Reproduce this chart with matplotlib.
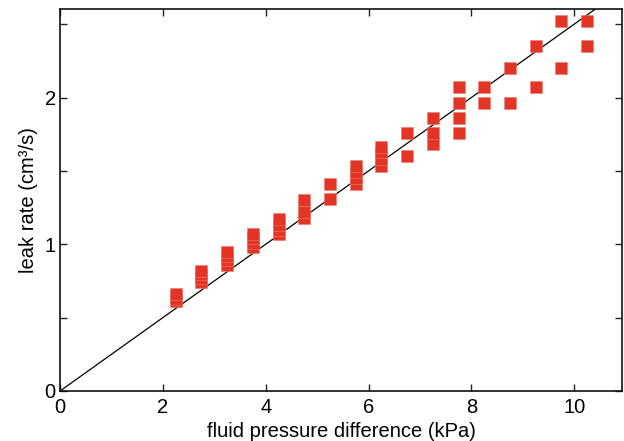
import matplotlib
matplotlib.use('Agg')
import matplotlib.pyplot as plt
import numpy as np
from matplotlib.ticker import MultipleLocator

plt.rcParams['font.family'] = ['Liberation Sans', 'DejaVu Sans']

# pressure difference columns (kPa) and leak rates (cm3/s)
pressure = [2.25, 2.25, 2.25,
            2.75, 2.75, 2.75, 2.75,
            3.25, 3.25, 3.25, 3.25,
            3.75, 3.75, 3.75, 3.75,
            4.25, 4.25, 4.25, 4.25,
            4.75, 4.75, 4.75,
            5.25, 5.25,
            5.75, 5.75, 5.75, 5.75,
            6.25, 6.25, 6.25, 6.25,
            6.75, 6.75,
            7.25, 7.25, 7.25,
            7.75, 7.75, 7.75, 7.75,
            8.25, 8.25,
            8.75, 8.75,
            9.25, 9.25,
            9.75, 9.75,
            10.25, 10.25]
leak = [0.61, 0.63, 0.66,
        0.74, 0.77, 0.80, 0.82,
        0.86, 0.89, 0.92, 0.95,
        0.98, 1.01, 1.04, 1.07,
        1.07, 1.10, 1.13, 1.17,
        1.18, 1.22, 1.30,
        1.31, 1.41,
        1.41, 1.45, 1.49, 1.53,
        1.53, 1.58, 1.63, 1.66,
        1.60, 1.76,
        1.68, 1.76, 1.86,
        1.76, 1.86, 1.96, 2.07,
        1.96, 2.07,
        1.96, 2.20,
        2.07, 2.35,
        2.20, 2.52,
        2.35, 2.52]

# reference line through the origin
fit_x = [0, 12]
fit_slope = 0.25

fig = plt.figure(figsize=(6.24, 4.41), dpi=100)
ax = fig.add_axes([0.0962, 0.1134, 0.9006, 0.8651])

ax.plot(fit_x, [fit_slope * v for v in fit_x], color='black', linewidth=0.9, zorder=2)
ax.plot(pressure, leak, linestyle='none', marker='s', markersize=8.6,
        markerfacecolor='#e23526', markeredgecolor='#ee7a6e',
        markeredgewidth=0.4, zorder=3)

ax.set_xlim(0, 10.93)
ax.set_ylim(0, 2.6)

ax.xaxis.set_major_locator(MultipleLocator(2))
ax.yaxis.set_major_locator(MultipleLocator(1))
ax.yaxis.set_minor_locator(MultipleLocator(0.5))

ax.tick_params(which='both', direction='in', top=True, right=True,
               length=5, width=1.0, labelsize=14.5, color='#222222')
ax.tick_params(axis='x', pad=5)
ax.tick_params(axis='y', pad=3)

for spine in ax.spines.values():
    spine.set_linewidth(1.2)
    spine.set_color('#111111')

ax.set_xlabel('fluid pressure difference (kPa)', fontsize=14.5, labelpad=4)
ax.set_ylabel('leak rate (cm\u00b3/s)', fontsize=14.5, labelpad=5)

fig.savefig('out.png', dpi=100)
